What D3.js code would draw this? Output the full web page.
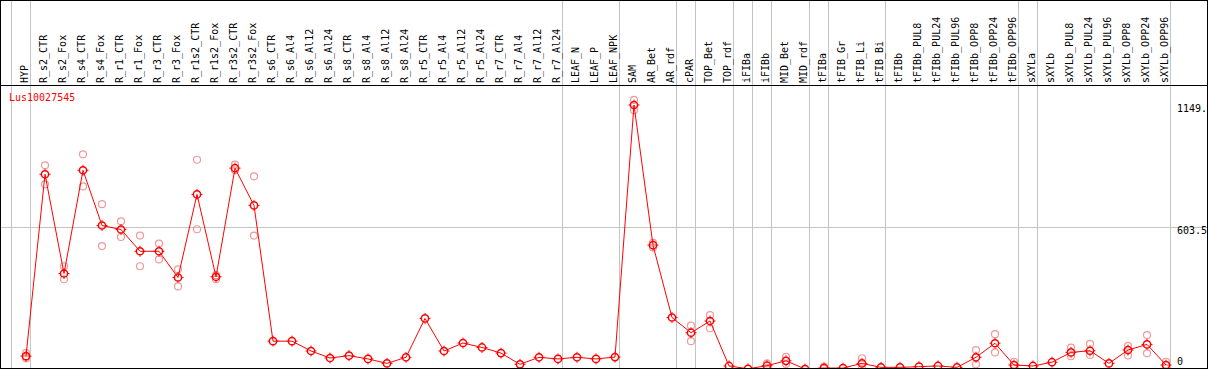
<!DOCTYPE html>
<html>
<head>
<meta charset="utf-8">
<script src="https://cdn.jsdelivr.net/npm/d3@7"></script>
<style>
  body { margin: 0; background: #fff; }
  text { font-family: "DejaVu Sans Mono", monospace; font-size: 10px; }
</style>
</head>
<body>
<div id="chart"></div>
<script>
// Expression profile for one gene across tissues / treatments
const geneName = 'Lus10027545';

const categories = [
  'HYP', 'R_s2_CTR', 'R_s2_Fox', 'R_s4_CTR', 'R_s4_Fox', 'R_r1_CTR', 'R_r1_Fox',
  'R_r3_CTR', 'R_r3_Fox', 'R_r1s2_CTR', 'R_r1s2_Fox', 'R_r3s2_CTR', 'R_r3s2_Fox',
  'R_s6_CTR', 'R_s6_Al4', 'R_s6_Al12', 'R_s6_Al24', 'R_s8_CTR', 'R_s8_Al4',
  'R_s8_Al12', 'R_s8_Al24', 'R_r5_CTR', 'R_r5_Al4', 'R_r5_Al12', 'R_r5_Al24',
  'R_r7_CTR', 'R_r7_Al4', 'R_r7_Al12', 'R_r7_Al24', 'LEAF_N', 'LEAF_P', 'LEAF_NPK',
  'SAM', 'AR_Bet', 'AR_rdf', 'cPAR', 'TOP_Bet', 'TOP_rdf', 'iFIBa', 'iFIBb',
  'MID_Bet', 'MID_rdf', 'tFIBa', 'tFIB_Gr', 'tFIB_Li', 'tFIB_Bi', 'tFIBb',
  'tFIBb_PUL8', 'tFIBb_PUL24', 'tFIBb_PUL96', 'tFIBb_OPP8', 'tFIBb_OPP24', 'tFIBb_OPP96',
  'sXYLa', 'sXYLb', 'sXYLb_PUL8', 'sXYLb_PUL24', 'sXYLb_PUL96', 'sXYLb_OPP8',
  'sXYLb_OPP24', 'sXYLb_OPP96'
];

// number of samples in each tissue group (separated by grey lines)
const groupSizes = [1, 28, 3, 3, 1, 2, 1, 1, 2, 1, 3, 7, 1, 7];

// mean expression per sample
const means = [
  55, 832, 408, 849, 613, 596, 503, 503, 391, 746, 394, 858, 699,
  119, 119, 77, 47, 57, 43, 24, 50, 216, 77, 111, 92, 68, 20, 50, 43,
  50, 43, 51,
  1128, 529, 220, 155, 205, 13, 1, 14, 35, 0, 4, 4, 24, 7,
  7, 10, 13, 7, 50, 110, 17,
  13, 29, 71, 78, 24, 81, 105, 17
];

// individual replicates (empty where they sit under the mean)
const replicates = [
  [68, 52, 45], [870, 789], [439, 383], [917, 780], [704, 525], [631, 564], [570, 439],
  [536, 468], [426, 353], [894, 597], [401, 383], [873, 849], [823, 570],
  [], [], [], [], [], [], [], [], [], [], [], [], [], [], [], [],
  [], [], [],
  [1149.5, 1106], [539, 519], [], [185, 119], [230, 174], [], [], [24, 4], [52, 21], [], [10], [], [46, 2], [],
  [], [], [], [], [81, 20], [149, 71], [31, 4],
  [], [], [91, 55], [107, 60], [], [99, 58], [145, 67], [31, 4]
];

const yTickValues = [1149.5, 603.5, 0];
const yTickLabels = ['1149.', '603.5', '0'];

function renderProfile(container) {
  const width = 1208;
  const height = 369;
  const headerH = 85.5;    // label band on top
  const plotRight = 1170;  // right axis column starts here

  const svg = d3.select(container)
    .append('svg')
    .attr('width', 1209)
    .attr('height', 370);

  svg.append('defs').append('clipPath')
    .attr('id', 'plot-clip')
    .append('rect')
    .attr('x', 0).attr('y', headerH)
    .attr('width', width).attr('height', height - headerH - 0.5);

  // x: one 19px column per sample
  const xBand = d3.scaleBand()
    .domain(categories)
    .range([11, 11 + categories.length * 19])
    .paddingInner(0)
    .paddingOuter(0);
  const xPoint = d => xBand(d) + 15;

  const yMax = d3.max(replicates.flat().concat(means)) * 1.05;
  const yScale = d3.scaleLinear()
    .domain([0, yMax])
    .range([369, 86.5]);

  // group separators
  const boundaries = [0].concat(Array.from(d3.cumsum(groupSizes)));
  svg.append('g')
    .selectAll('line')
    .data(boundaries)
    .enter()
    .append('line')
    .attr('x1', i => Math.round(xBand.range()[0] + i * xBand.step()) + 0.5)
    .attr('x2', i => Math.round(xBand.range()[0] + i * xBand.step()) + 0.5)
    .attr('y1', 0)
    .attr('y2', height)
    .attr('stroke', '#c4c4c4')
    .attr('stroke-width', 1);

  // mid grid line
  svg.append('line')
    .attr('x1', 0).attr('x2', width)
    .attr('y1', Math.floor(yScale(yTickValues[1])) + 0.5)
    .attr('y2', Math.floor(yScale(yTickValues[1])) + 0.5)
    .attr('stroke', '#c4c4c4');

  // sample labels, rotated
  svg.append('g')
    .selectAll('text')
    .data(categories)
    .enter()
    .append('text')
    .attr('transform', d => `translate(${xPoint(d) + 1.5},83) rotate(-90)`)
    .attr('text-anchor', 'start')
    .attr('fill', '#000')
    .text(d => d);

  // gene name
  svg.append('text')
    .attr('x', 9)
    .attr('y', 101)
    .attr('fill', '#ff0000')
    .text(geneName);

  // right axis values
  svg.append('g')
    .selectAll('text')
    .data(yTickValues)
    .enter()
    .append('text')
    .attr('x', plotRight + 7)
    .attr('y', v => Math.min(Math.max(yScale(v) + 6, 112), 365))
    .attr('fill', '#000')
    .text((v, i) => yTickLabels[i]);

  const plot = svg.append('g').attr('clip-path', 'url(#plot-clip)');

  // replicates
  const repData = [];
  replicates.forEach((reps, i) => reps.forEach(v => repData.push({ cat: categories[i], v })));

  plot.selectAll('.rep')
    .data(repData)
    .enter()
    .append('circle')
    .attr('class', 'rep')
    .attr('cx', d => xPoint(d.cat))
    .attr('cy', d => yScale(d.v))
    .attr('r', 3.5)
    .attr('fill', 'none')
    .attr('stroke', '#f09a9a')
    .attr('stroke-width', 1.2);

  // mean line
  const line = d3.line()
    .x((d, i) => xPoint(categories[i]))
    .y(d => yScale(d));

  plot.append('path')
    .datum(means)
    .attr('d', line)
    .attr('fill', 'none')
    .attr('stroke', '#ff0000')
    .attr('stroke-width', 1);

  // mean markers
  const marks = plot.selectAll('.mean')
    .data(means)
    .enter()
    .append('g')
    .attr('class', 'mean')
    .attr('transform', (d, i) => `translate(${xPoint(categories[i])},${yScale(d)})`);

  marks.append('circle')
    .attr('r', 3.6)
    .attr('fill', 'none')
    .attr('stroke', '#ff0000')
    .attr('stroke-width', 1.5);

  marks.append('path')
    .attr('d', 'M0,-5.5V-4M0,4V5.5M-5.5,0H-4M4,0H5.5')
    .attr('stroke', '#ff0000')
    .attr('stroke-width', 1);

  // frame
  svg.append('rect')
    .attr('x', 0.5).attr('y', 0.5)
    .attr('width', width - 1).attr('height', height - 1)
    .attr('fill', 'none')
    .attr('stroke', '#000');

  svg.append('line')
    .attr('x1', 0).attr('x2', width)
    .attr('y1', headerH).attr('y2', headerH)
    .attr('stroke', '#000');
}

renderProfile(document.getElementById('chart'));
</script>
</body>
</html>
